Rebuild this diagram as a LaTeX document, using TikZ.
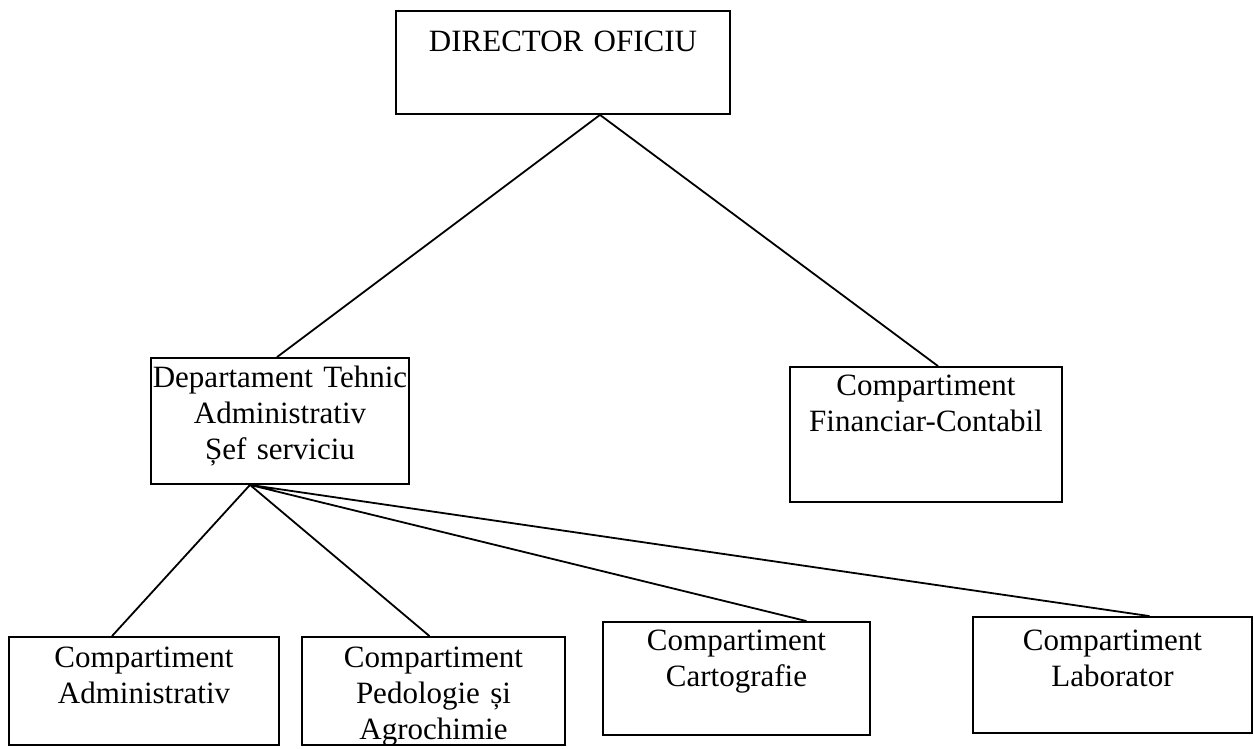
\documentclass[tikz,border=0pt]{standalone}
\usepackage{fontspec}
\setmainfont{Liberation Serif}

\begin{document}
\begin{tikzpicture}[x=0.5pt,y=-0.5pt]
\useasboundingbox (0,0) rectangle (1254,749);
\begin{scope}[line width=0.9pt]
\tikzstyle{every node}=[shape=rectangle, draw, inner sep=0pt, align=center, font=\fontsize{15.5}{18}\selectfont];
% top
\draw (563,62.5) node[text width=167pt, text height=20.5pt, text depth=31pt] (dir) {DIRECTOR OFICIU};

% second level
\draw (280,421) node[text width=129pt, text height=14.5pt, text depth=48.5pt] (dep) {Departament Tehnic\\Administrativ\\Șef serviciu};
\draw (926,434.5) node[text width=136pt, text height=14pt, text depth=53.5pt] (fin) {Compartiment\\Financiar-Contabil};
\draw ([xshift=18.5pt]dir.south) -- ([xshift=-1.5pt]dep.north)
([xshift=18.5pt]dir.south) -- ([xshift=6pt]fin.north);

% third level
\draw (144,691) node[text width=135pt, text height=15pt, text depth=39pt] (adm) {Compartiment\\Administrativ};
\draw (433.5,691) node[text width=131.5pt, text height=15pt, text depth=39pt] (ped) {Compartiment\\Pedologie și\\Agrochimie};
\draw (736.5,678.5) node[text width=133.5pt, text height=14pt, text depth=42.5pt] (car) {Compartiment\\Cartografie};
\draw (1112.5,675) node[text width=139.5pt, text height=16.5pt, text depth=41.5pt] (lab) {Compartiment\\Laborator};
\draw ([xshift=-15pt]dep.south) -- ([xshift=-16pt]adm.north)
([xshift=-15pt]dep.south) -- ([xshift=-2pt]ped.north)
([xshift=-15pt]dep.south) -- ([xshift=35pt]car.north)
([xshift=-15pt]dep.south) -- ([xshift=18.5pt]lab.north);
\end{scope}
\end{tikzpicture}
\end{document}
